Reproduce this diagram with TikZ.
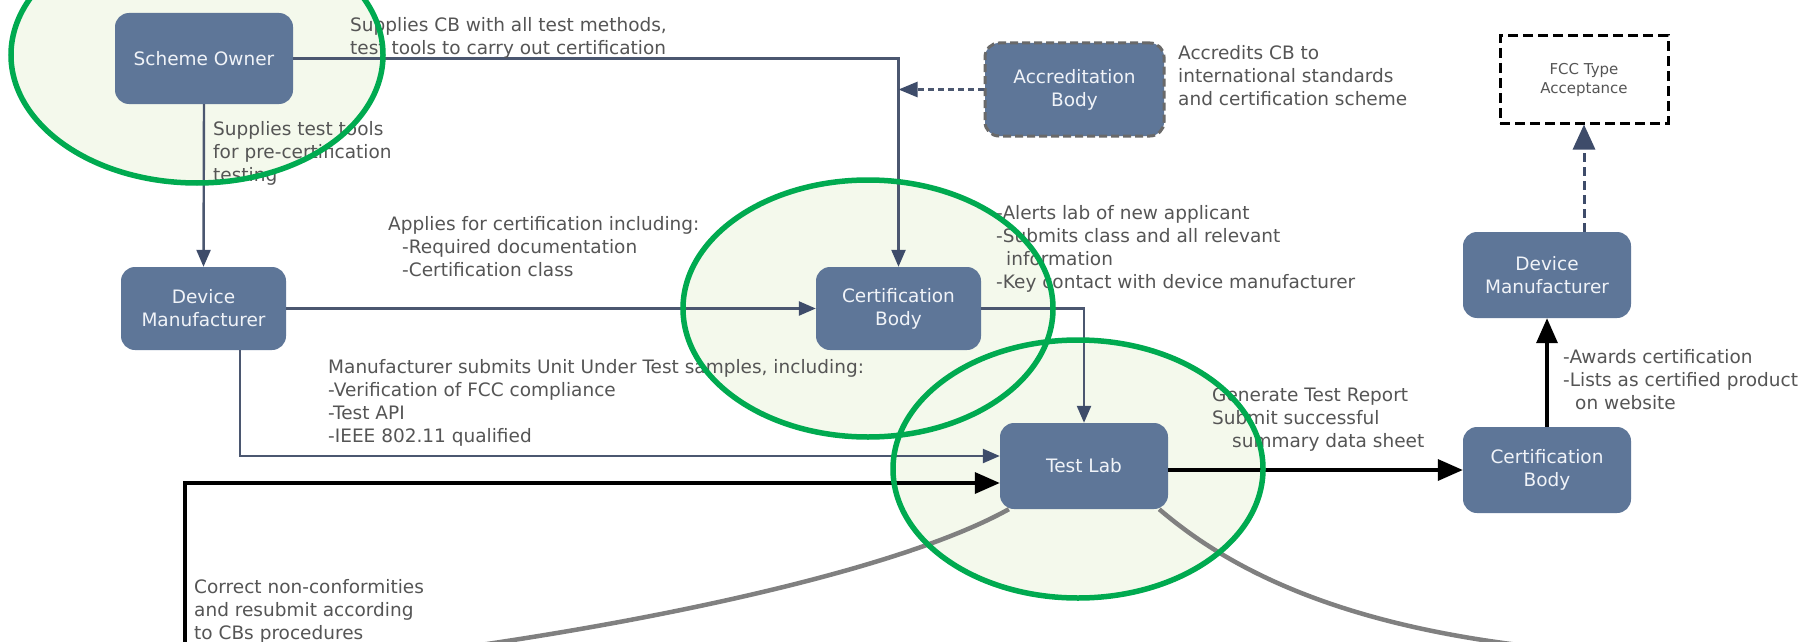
\documentclass[tikz,border=0pt]{standalone}
\usepackage{fontspec}
\setmainfont{DejaVu Sans}
\usetikzlibrary{arrows.meta}
\definecolor{boxfill}{RGB}{94,118,152}
\definecolor{boxtext}{RGB}{240,243,248}
\definecolor{linec}{RGB}{75,87,112}
\definecolor{headc}{RGB}{62,76,106}
\definecolor{txt}{RGB}{85,85,85}
\definecolor{abdash}{RGB}{105,105,105}
\definecolor{curvec}{RGB}{128,128,128}
\definecolor{ring}{RGB}{0,170,80}
\definecolor{ringfill}{RGB}{244,249,236}
\begin{document}
\begin{tikzpicture}[x=1pt,y=-1pt,
  box/.style={fill=boxfill, rounded corners=14pt, text=boxtext, align=center,
    font=\fontsize{18.5}{23}\selectfont, inner sep=0pt},
  abbox/.style={draw=abdash, line width=3pt, dash pattern=on 8pt off 4pt},
  fccbox/.style={draw=black, fill=white, line width=3pt, dash pattern=on 10pt off 5pt,
    text=txt, align=center, font=\fontsize{15}{19}\selectfont, inner sep=0pt,
    minimum width=168pt, minimum height=87pt},
  lbl/.style={anchor=north west, inner sep=0pt, text=txt, align=left,
    font=\fontsize{18.5}{23}\selectfont},
  conn/.style={draw=linec, line width=2.4pt, -{Triangle[length=17pt,width=14pt,color=headc]}},
  dconn/.style={draw=linec, line width=2.6pt, dash pattern=on 6pt off 4pt,
    -{Triangle[length=19pt,width=15pt,color=headc]}},
  fconn/.style={draw=headc, line width=3pt, dash pattern=on 9pt off 5pt,
    -{Triangle[length=25pt,width=22pt,color=headc]}},
  bconn/.style={draw=black, line width=3.5pt, -{Triangle[length=25pt,width=21pt]}},
  curve/.style={draw=curvec, line width=4.5pt},
  ringf/.style={fill=ringfill},
  rings/.style={draw=ring, line width=5.5pt}
]
\useasboundingbox (0,0) rectangle (1803,642);
\clip (0,0) rectangle (1803,642);
\fill[white] (0,0) rectangle (1803,642);

% ring fills
\path[ringf] (197,55) ellipse [x radius=186pt, y radius=128pt];
\path[ringf] (868,308.5) ellipse [x radius=185pt, y radius=128.5pt];
\path[ringf] (1078,469) ellipse [x radius=185pt, y radius=129pt];

% boxes
\node[box, minimum width=178pt, minimum height=91pt] (so) at (204,58.5) {Scheme Owner};
\node[box, minimum width=165pt, minimum height=83pt] (dm1) at (203.5,308.5) {Device\\Manufacturer};
\node[box, minimum width=165pt, minimum height=83pt] (cb1) at (898.5,308.5) {Certification\\Body};
\node[box, abbox, minimum width=179pt, minimum height=93pt] (ab) at (1074.5,89.5) {Accreditation\\Body};
\node[box, minimum width=168pt, minimum height=86pt] (tl) at (1084,466) {Test Lab};
\node[box, minimum width=168pt, minimum height=86pt] (cb2) at (1547,470) {Certification\\Body};
\node[box, minimum width=168pt, minimum height=86pt] (dm2) at (1547,275) {Device\\Manufacturer};
\node[fccbox] (fcc) at (1584,79.5) {FCC Type\\Acceptance};

% coordinates
\coordinate (j1) at (so.east -| cb1.north);
\coordinate (j2) at (cb1.east -| tl.north);
\coordinate (f0) at ([xshift=36.5pt]dm1.south);
\coordinate (f1) at ([yshift=10pt]tl.west);
\coordinate (g0) at (185,650);
\coordinate (g1) at ([yshift=-17pt]tl.west);
\coordinate (kl) at (445,650);
\coordinate (kr) at (1565,650);

% connectors
\draw[conn] (so.east) -- (j1) -- (cb1.north);
\draw[dconn] (ab.west) -- (ab.west -| j1);
\draw[conn] (so.south) -- (dm1.north);
\draw[conn] (dm1.east) -- (cb1.west);
\draw[conn] (cb1.east) -- (j2) -- (tl.north);
\draw[conn] (f0) |- (f1);
\draw[bconn] (g0) |- (g1);
\draw[bconn] (tl.east |- cb2.west) -- (cb2.west);
\draw[bconn] (cb2.north) -- (dm2.south);
\draw[fconn] (fcc.south |- dm2.north) -- (fcc.south);
\draw[curve] ([xshift=9pt]tl.south west) .. controls (900,570) and (650,622) .. (kl);
\draw[curve] ([xshift=-9pt]tl.south east) .. controls (1230,570) and (1345,630) .. (kr);

% labels
\node[lbl] (t1) at (350,17.5) {Supplies CB with all test methods,\\test tools to carry out certification};
\node[lbl] (t2) at (213,121.5) {Supplies test tools\\for pre-certification\\testing};
\node[lbl] (t3) at (388,216.5) {Applies for certification including:\\\hspace*{14pt}-Required documentation\\\hspace*{14pt}-Certification class};
\node[lbl] (t4) at (1178,45.5) {Accredits CB to\\international standards\\and certification scheme};
\node[lbl] (t5) at (996,205.5) {-Alerts lab of new applicant\\-Submits class and all relevant\\\hspace*{10pt}information\\-Key contact with device manufacturer};
\node[lbl] (t6) at (328,359.5) {Manufacturer submits Unit Under Test samples, including:\\-Verification of FCC compliance\\-Test API\\-IEEE 802.11 qualified};
\node[lbl] (t7) at (1212,387.5) {Generate Test Report\\Submit successful\\\hspace*{20pt}summary data sheet};
\node[lbl] (t8) at (1563,349.5) {-Awards certification\\-Lists as certified product\\\hspace*{12pt}on website};
\node[lbl] (t9) at (194,579.5) {Correct non-conformities\\and resubmit according\\to CBs procedures};

% ring strokes
\draw[rings] (197,55) ellipse [x radius=186pt, y radius=128pt];
\draw[rings] (868,308.5) ellipse [x radius=185pt, y radius=128.5pt];
\draw[rings] (1078,469) ellipse [x radius=185pt, y radius=129pt];
\end{tikzpicture}
\end{document}
